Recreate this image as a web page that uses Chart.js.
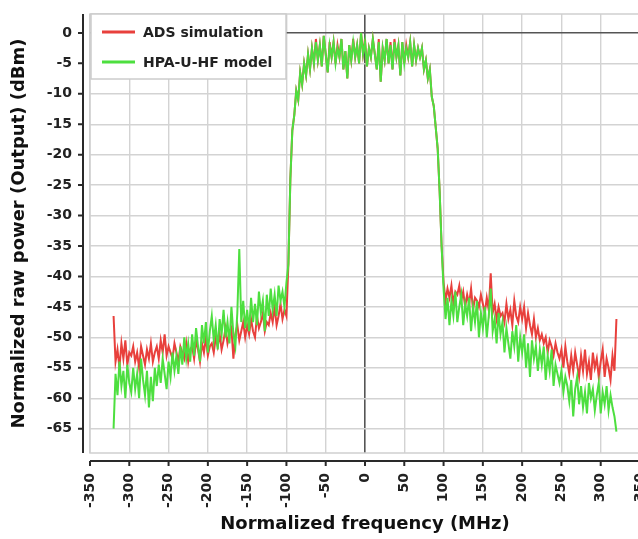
<!DOCTYPE html>
<html>
<head>
<meta charset="utf-8">
<script src="https://cdn.jsdelivr.net/npm/chart.js@4.4.1/dist/chart.umd.min.js"></script>
<style>
html, body { margin: 0; padding: 0; background: #fff; overflow: hidden; }
#wrap { position: absolute; left: 0; top: 0; width: 640px; height: 539px; }
</style>
</head>
<body>
<div id="wrap"><canvas id="spectrum-chart" width="640" height="539"></canvas></div>
<script>
// sample frequencies (MHz), every 2.5 MHz
const freqMHz = [
  -320, -317.5, -315, -312.5, -310, -307.5, -305, -302.5, -300, -297.5,
  -295, -292.5, -290, -287.5, -285, -282.5, -280, -277.5, -275, -272.5,
  -270, -267.5, -265, -262.5, -260, -257.5, -255, -252.5, -250, -247.5,
  -245, -242.5, -240, -237.5, -235, -232.5, -230, -227.5, -225, -222.5,
  -220, -217.5, -215, -212.5, -210, -207.5, -205, -202.5, -200, -197.5,
  -195, -192.5, -190, -187.5, -185, -182.5, -180, -177.5, -175, -172.5,
  -170, -167.5, -165, -162.5, -160, -157.5, -155, -152.5, -150, -147.5,
  -145, -142.5, -140, -137.5, -135, -132.5, -130, -127.5, -125, -122.5,
  -120, -117.5, -115, -112.5, -110, -107.5, -105, -102.5, -100,
  -97.5, -95, -92.5, -90, -87.5, -85, -82.5, -80, -77.5, -75, -72.5, -70, -67.5, -65,
  -62.5, -60, -57.5, -55, -52.5, -50, -47.5, -45, -42.5, -40,
  -37.5, -35, -32.5, -30, -27.5, -25, -22.5, -20, -17.5, -15,
  -12.5, -10, -7.5, -5, -2.5, 0, 2.5, 5, 7.5, 10,
  12.5, 15, 17.5, 20, 22.5, 25, 27.5, 30, 32.5, 35,
  37.5, 40, 42.5, 45, 47.5, 50, 52.5, 55, 57.5, 60,
  62.5, 65, 67.5,
  70, 72.5, 75, 77.5, 80, 82.5, 85, 87.5, 90, 92.5, 95, 97.5,
  100, 102.5, 105, 107.5, 110, 112.5, 115, 117.5, 120, 122.5,
  125, 127.5, 130, 132.5, 135, 137.5, 140, 142.5, 145, 147.5,
  150, 152.5, 155, 157.5, 160, 162.5, 165, 167.5, 170, 172.5,
  175, 177.5, 180, 182.5, 185, 187.5, 190, 192.5, 195, 197.5,
  200, 202.5, 205, 207.5, 210, 212.5, 215, 217.5, 220, 222.5,
  225, 227.5, 230, 232.5, 235, 237.5, 240, 242.5, 245, 247.5,
  250, 252.5, 255, 257.5, 260, 262.5, 265, 267.5, 270, 272.5,
  275, 277.5, 280, 282.5, 285, 287.5, 290, 292.5, 295, 297.5,
  300, 302.5, 305, 307.5, 310, 312.5, 315, 317.5, 320
];

// ADS simulation (red), dBm
const adsPower = [
  -46.5, -54, -52, -55, -51, -53.5, -50.5, -54.5, -52.5, -53,
  -51.5, -54, -52.5, -55, -51.5, -53, -54.5, -52, -53.5, -51,
  -54, -52.5, -51.5, -53.5, -50.5, -52.5, -49.5, -53, -51.5, -52.5,
  -53.5, -51, -52.5, -54, -51.5, -52.5, -53.5, -51, -54, -52,
  -51.5, -53.5, -50.5, -52, -54, -51, -52.5, -50, -53, -51.5,
  -51, -52.5, -50, -51.5, -49.5, -52, -50.5, -48.5, -51, -49.5,
  -48.5, -53.5, -49.5, -48, -50.5, -49, -47.5, -50, -48, -49.5,
  -47, -49, -50, -46.5, -48.5, -47.5, -46, -49, -47.5, -48,
  -46, -47.5, -45, -48, -46.5, -44.5, -47, -45.5, -46.5,
  -38, -24, -16, -13.5, -9.5, -11, -6.5, -8.5, -5, -7, -3.5, -6, -2.5, -5,
  -1, -4.5, -2, -5.5, -0.5, -3.5, -6.5, -1.5, -4, -1.5,
  -5, -2, -4, -1, -6, -3, -7.5, -2, -4.5, -1,
  -4, -2, -5, 0, -3.5, -1, -5.5, -2.5, -4, -1,
  -3.5, -6, -1, -8, -2.5, -4.5, -1, -5, -1.5, -6,
  -1, -4, -2, -7, -1.5, -5, -2, -4, -1.5, -5.5,
  -2, -4.5, -2.5,
  -4, -2.5, -6, -4.5, -7.5, -6, -10.5, -12, -15.5, -19, -26, -35,
  -41, -44, -42, -43.5, -41.5, -44.5, -42.5, -43, -41.5, -44,
  -42.5, -45, -43, -44.5, -42, -45.5, -43.5, -44, -45, -43,
  -44.5, -46, -43.5, -45.5, -39.5, -46, -44.5, -47, -45, -46.5,
  -46, -47.5, -44.5, -47, -45.5, -48, -44, -46.5, -47.5, -45,
  -47, -45, -48.5, -46, -48, -49.5, -47, -50, -48.5, -50.5,
  -49.5, -51, -50, -52.5, -50.5, -51.5, -53, -51, -52.5, -53.5,
  -52, -55, -51.5, -54, -56, -53, -55.5, -52.5, -54.5, -56.5,
  -53, -55.5, -52, -56, -54, -57, -52.5, -55, -53.5, -56.5,
  -54, -52, -56.5, -53.5, -55, -57, -53, -55.5, -47
];

// HPA-U-HF model (green), dBm
const hpaPower = [
  -65, -56, -59.5, -54, -58, -55.5, -60, -54.5, -57.5, -59,
  -55, -58.5, -56, -60, -53.5, -57, -59.5, -55.5, -61.5, -56.5,
  -60.5, -55, -58, -54.5, -57.5, -53.5, -56, -58.5, -54, -56.5,
  -52.5, -55.5, -53, -56, -51.5, -54.5, -50, -53.5, -51, -54,
  -49.5, -53, -48.5, -51.5, -54, -48, -51, -47.5, -52.5, -49,
  -46.5, -50.5, -48, -52, -47, -49.5, -45.5, -50, -47.5, -51,
  -45, -49.5, -51.5, -46, -35.5, -47.5, -44, -48.5, -45.5, -49,
  -43.5, -47.5, -44.5, -48, -42.5, -46, -44, -49, -43, -46.5,
  -42, -45.5, -43, -46.5, -41.5, -44, -42.5, -45, -41,
  -38, -24, -16, -13.5, -9.5, -11, -6.5, -8.5, -5, -7, -3.5, -6, -2.5, -5,
  -1.5, -4.5, -2, -5.5, -0.5, -3.5, -6.5, -2, -4, -1.5,
  -5, -2.5, -4, -1, -6, -3, -7.5, -2, -4.5, -1.5,
  -4, -2, -5, 0, -3.5, -1.5, -5.5, -2.5, -4, -1,
  -3.5, -6, -1.5, -8, -2.5, -4.5, -1, -5, -2, -6,
  -1.5, -4, -2, -7, -1.5, -5, -2.5, -4, -1.5, -5.5,
  -2, -4.5, -2.5,
  -4, -2.5, -6, -4.5, -7.5, -6, -10.5, -12, -15.5, -19, -26, -35,
  -42, -47, -43.5, -48, -44, -46.5, -42.5, -47.5, -45, -43,
  -48, -44.5, -46.5, -43.5, -49, -45, -47.5, -44, -50, -46,
  -48.5, -45, -50, -46.5, -42, -49, -47, -51, -46, -49.5,
  -47.5, -52.5, -48.5, -51, -53.5, -49, -51.5, -48, -54, -50,
  -52.5, -49.5, -55, -51, -56.5, -50.5, -53.5, -51.5, -55.5, -52,
  -54.5, -51.5, -57, -53, -55.5, -52, -58, -54.5, -56, -57.5,
  -55.5, -59, -56.5, -58, -60.5, -57, -63, -58.5, -56.5, -61,
  -58, -61.5, -59, -62.5, -57.5, -60, -58.5, -62, -59.5, -57.5,
  -62.5, -59, -61, -58, -62, -59.5, -61.5, -63, -65.5
];

const seriesNames = ['ADS simulation', 'HPA-U-HF model'];
const seriesColors = ['#e8403c', '#4ddf3f'];

const toPoints = (vals) => freqMHz.map((f, i) => ({ x: f, y: vals[i] }));

Chart.defaults.font.family = "'DejaVu Sans', 'Verdana', sans-serif";
Chart.defaults.color = '#222';

// JFreeChart-like axes: axis lines sit a few px away from the plot
const offsetAxes = {
    id: 'offsetAxes',
    beforeDatasetsDraw(chart) {
        const { ctx, chartArea: a } = chart;
        ctx.save();
        ctx.strokeStyle = '#cfcfcf';
        ctx.lineWidth = 1.5;
        ctx.strokeRect(a.left, a.top, a.right - a.left, a.bottom - a.top);
        ctx.restore();
    },
    afterDraw(chart) {
        const { ctx, chartArea: a, scales: { x, y } } = chart;
        const axX = a.left - 7;
        const axY = a.bottom + 8;
        ctx.save();
        ctx.strokeStyle = '#2a2a2a';
        ctx.lineWidth = 2;
        ctx.beginPath();
        ctx.moveTo(axX, a.top);
        ctx.lineTo(axX, a.bottom);
        y.ticks.forEach(t => {
            const py = y.getPixelForValue(t.value);
            ctx.moveTo(axX - 5, py);
            ctx.lineTo(axX, py);
        });
        ctx.moveTo(a.left, axY);
        ctx.lineTo(a.right, axY);
        x.ticks.forEach(t => {
            const px = x.getPixelForValue(t.value);
            ctx.moveTo(px, axY);
            ctx.lineTo(px, axY + 5);
        });
        ctx.stroke();
        ctx.restore();
    }
};

// boxed legend inside the plot, top-left
const boxLegend = {
    id: 'boxLegend',
    afterDatasetsDraw(chart) {
        const { ctx, chartArea: a } = chart;
        const bx = a.left + 1, by = a.top, bw = 195, bh = 65;
        ctx.save();
        ctx.fillStyle = '#fff';
        ctx.fillRect(bx, by, bw, bh);
        ctx.strokeStyle = '#cccccc';
        ctx.lineWidth = 1.5;
        ctx.strokeRect(bx, by, bw, bh);
        ctx.font = "bold 14px 'DejaVu Sans', sans-serif";
        ctx.textBaseline = 'middle';
        ctx.fillStyle = '#222';
        seriesNames.forEach((name, i) => {
            const ly = by + 18 + i * 30;
            ctx.strokeStyle = seriesColors[i];
            ctx.lineWidth = 3;
            ctx.beginPath();
            ctx.moveTo(bx + 11, ly);
            ctx.lineTo(bx + 44, ly);
            ctx.stroke();
            ctx.fillText(name, bx + 52, ly + 1);
        });
        ctx.restore();
    }
};

const gridColor = (c) => (c.tick && c.tick.value === 0) ? '#555555' : '#d3d3d3';
const gridWidth = (c) => (c.tick && c.tick.value === 0) ? 1.6 : 1.4;

const ctx = document.getElementById('spectrum-chart').getContext('2d');
new Chart(ctx, {
    type: 'line',
    data: {
        datasets: [{
            label: seriesNames[0],
            data: toPoints(adsPower),
            borderColor: seriesColors[0],
            borderWidth: 2,
            pointRadius: 0,
            tension: 0,
            order: 1
        }, {
            label: seriesNames[1],
            data: toPoints(hpaPower),
            borderColor: seriesColors[1],
            borderWidth: 2,
            pointRadius: 0,
            tension: 0,
            order: 0
        }]
    },
    options: {
        responsive: false,
        animation: false,
        devicePixelRatio: 1,
        layout: { padding: { top: 14, right: 0, left: 0, bottom: 0 } },
        scales: {
            x: {
                type: 'linear',
                min: -350,
                max: 350,
                border: { display: false },
                grid: { color: gridColor, lineWidth: gridWidth, drawTicks: false },
                ticks: {
                    stepSize: 50,
                    autoSkip: false,
                    minRotation: 90,
                    maxRotation: 90,
                    padding: 20,
                    color: '#222',
                    font: { size: 14, weight: 'bold' }
                },
                title: {
                    display: true,
                    text: 'Normalized frequency (MHz)',
                    color: '#111',
                    font: { size: 18, weight: 'bold' },
                    padding: { top: 0, bottom: 4 }
                },
                afterFit(scale) {
                    scale.height = 86;
                    scale.paddingLeft = 0;
                    scale.paddingRight = 0;
                }
            },
            y: {
                min: -69,
                max: 3.1,
                border: { display: false },
                grid: { color: gridColor, lineWidth: gridWidth, drawTicks: false },
                ticks: {
                    stepSize: 5,
                    includeBounds: false,
                    padding: 18,
                    color: '#222',
                    font: { size: 14, weight: 'bold' }
                },
                title: {
                    display: true,
                    text: 'Normalized raw power (Output) (dBm)',
                    color: '#111',
                    font: { size: 18, weight: 'bold' },
                    padding: { top: 9, bottom: 0 }
                },
                afterFit(scale) {
                    scale.width = 90;
                    scale.paddingTop = 0;
                    scale.paddingBottom = 0;
                }
            }
        },
        plugins: {
            legend: { display: false },
            tooltip: { enabled: false }
        }
    },
    plugins: [offsetAxes, boxLegend]
});
</script>
</body>
</html>
